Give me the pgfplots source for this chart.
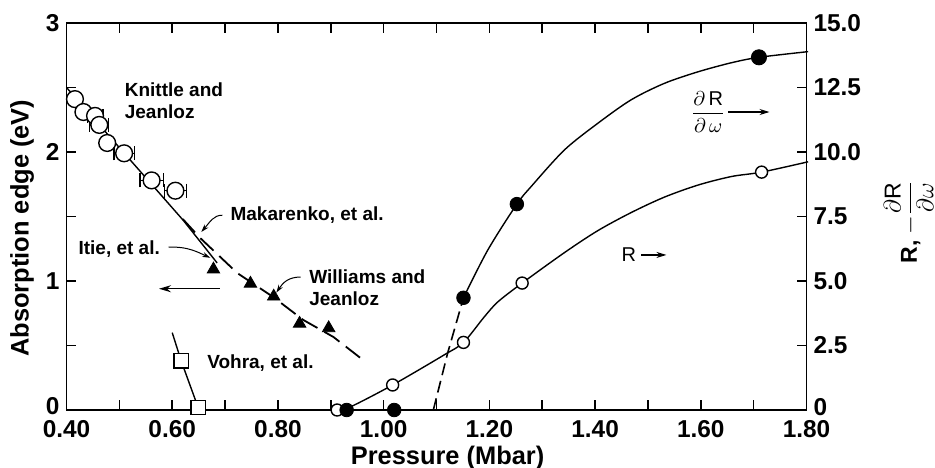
\documentclass[border=0pt]{standalone}
\usepackage{fontspec}
\setmainfont{Liberation Sans}
\usepackage{pgfplots}
\usepackage{pgfplotstable}
\pgfplotsset{compat=1.18}
\usetikzlibrary{arrows.meta}

\pgfplotstableread{
P E dP
0.416 2.41 0.010
0.432 2.31 0
0.454 2.28 0.015
0.462 2.21 0.018
0.477 2.07 0
0.509 1.99 0.019
0.561 1.78 0.022
0.606 1.70 0.021
}\knittle

\pgfplotstableread{
P E
0.678 1.09
0.748 0.98
0.792 0.88
0.841 0.67
0.896 0.635
}\williams

\pgfplotstableread{
P R
0.912 0
0.937 0.12
1.017 0.97
1.114 2.13
1.151 2.62
1.190 3.60
1.216 4.19
1.262 4.92
1.342 6.10
1.405 6.95
1.468 7.65
1.531 8.25
1.595 8.72
1.658 9.05
1.715 9.22
1.803 9.62
}\Rcurve

\pgfplotstableread{
P R
1.151 4.35
1.197 6.20
1.252 7.98
1.279 8.66
1.342 10.08
1.405 11.11
1.468 12.02
1.531 12.66
1.595 13.11
1.658 13.46
1.710 13.67
1.803 13.89
}\dRcurve

\newcommand{\annot}{\fontsize{9.5}{11}\selectfont\bfseries}
\begin{document}
\begin{tikzpicture}
\path[use as bounding box] (-33.25pt,-28.5pt) rectangle (434.25pt,205pt);
\pgfplotsset{
 every axis/.append style={
  scale only axis, width=370pt, height=193.5pt,
  xmin=0.4, xmax=1.8, clip=false,
  axis line style={line width=0.9pt},
  tick style={black, line width=0.8pt},
  major tick length=5pt, minor tick length=5pt,
  tick align=inside,
  tick label style={font=\fontsize{12.2}{14}\selectfont\bfseries},
 }
}
\begin{axis}[
 ymin=0, ymax=3,
 xtick={0.4,0.6,0.8,1.0,1.2,1.4,1.6,1.8},
 xticklabels={0.40,0.60,0.80,1.00,1.20,1.40,1.60,1.80},
 minor xtick={0.5,0.7,0.9,1.1,1.3,1.5,1.7},
 ytick={0,1,2,3}, yticklabels={\raisebox{4pt}{0},1,2,3},
 minor ytick={0.5,1.5,2.5},
 xtick pos=both, ytick pos=left,
 xticklabel style={yshift=-1.5pt},
]
% Knittle and Jeanloz fit line
\addplot[black, line width=0.7pt] coordinates {(0.40,2.50)(0.621,1.47)(0.685,1.14)};
% Makarenko dashed
\addplot[black, line width=0.9pt, dash pattern=on 9pt off 4pt] coordinates {(0.62,1.48)(0.653,1.333)(0.723,1.062)(0.791,0.876)(0.848,0.698)(0.905,0.566)(0.966,0.372)};
% Knittle data
\addplot[only marks, mark=*, mark size=4.2pt, mark options={fill=white, draw=black, line width=0.7pt},
  error bars/.cd, x dir=both, x explicit,
  error bar style={line width=0.6pt, black},
  error mark options={black, line width=0.6pt, mark size=3.5pt, rotate=90}]
  table[x=P, y=E, x error=dP]{\knittle};
% Williams and Jeanloz
\addplot[only marks, mark=triangle*, mark size=3.6pt, black] table[x=P,y=E]{\williams};
% Vohra
\addplot[black, line width=0.7pt] coordinates {(0.600,0.60)(0.617,0.38)(0.649,0.02)};
\addplot[only marks, mark=square*, mark size=3.6pt, mark options={fill=white, draw=black, line width=0.7pt}] coordinates {(0.617,0.38)(0.649,0.02)};

% annotations
\node[anchor=west, align=left, font=\annot] at (axis cs:0.497,2.40) {Knittle and\\Jeanloz};
\node[anchor=west, font=\annot] at (axis cs:0.697,1.51) {Makarenko, et al.};
\draw[line width=0.5pt, -{Stealth[length=4pt,width=2.5pt]}] (axis cs:0.695,1.51) .. controls (axis cs:0.678,1.51) and (axis cs:0.672,1.46) .. (axis cs:0.655,1.38);
\node[anchor=east, font=\annot] at (axis cs:0.590,1.25) {Itie, et al.};
\draw[line width=0.5pt, -{Stealth[length=4pt,width=2.5pt]}] (axis cs:0.593,1.262) .. controls (axis cs:0.63,1.27) and (axis cs:0.65,1.22) .. (axis cs:0.672,1.18);
\node[anchor=west, align=left, font=\annot] at (axis cs:0.846,0.946) {Williams and\\Jeanloz};
\draw[line width=0.5pt, -{Stealth[length=4pt,width=2.5pt]}] (axis cs:0.843,1.031) .. controls (axis cs:0.82,1.03) and (axis cs:0.81,0.99) .. (axis cs:0.797,0.91);
\node[anchor=west, font=\annot] at (axis cs:0.653,0.364) {Vohra, et al.};
\draw[line width=0.7pt, -{Stealth[length=6pt,width=3.5pt]}] (axis cs:0.69,0.94) -- (axis cs:0.575,0.94);

\node[rotate=90, font=\fontsize{12.7}{14}\selectfont\bfseries] at (rel axis cs:-0.060,0.470) {Absorption edge (eV)};
\node[font=\fontsize{12.7}{14}\selectfont\bfseries] at (rel axis cs:0.515,-0.123) {Pressure (Mbar)};
\end{axis}

\begin{axis}[
 ymin=0, ymax=15,
 axis x line=none, axis y line*=right,
 ytick={0,2.5,5,7.5,10,12.5,15},
 yticklabels={\raisebox{3pt}{0},2.5,5.0,7.5,10.0,12.5,15.0},
 ytick pos=right,
]
% R curve
\addplot[black, line width=0.7pt, smooth] table[x=P,y=R]{\Rcurve};
% dR/domega
\addplot[black, line width=1.2pt] coordinates {(0.905,0)(1.068,0)};
\addplot[black, line width=1.0pt] coordinates {(1.076,0)(1.094,0)};
\addplot[black, line width=0.8pt, dash pattern=on 6pt off 3pt] coordinates {(1.094,0)(1.121,2.2)(1.151,4.35)};
\addplot[black, line width=0.7pt, smooth] table[x=P,y=R]{\dRcurve};
% markers
\addplot[only marks, mark=*, mark size=3pt, mark options={fill=white, draw=black, line width=0.7pt}] coordinates {(0.912,0)(1.017,0.97)(1.151,2.62)(1.262,4.92)(1.715,9.22)};
\addplot[only marks, mark=*, mark size=3.4pt, black] coordinates {(0.93,0)(1.02,0)(1.151,4.35)(1.252,7.98)};
\addplot[only marks, mark=*, mark size=3.8pt, black] coordinates {(1.710,13.67)};

\node[font=\fontsize{10}{12}\selectfont] at (axis cs:1.614,11.55) {$\displaystyle\frac{\partial\,\textnormal{R}}{\partial\,\omega}$};
\draw[line width=0.6pt, -{Stealth[length=5pt,width=3pt]}] (axis cs:1.652,11.55) -- (axis cs:1.730,11.55);
\node[font=\fontsize{10}{12}\selectfont] at (axis cs:1.464,6.01) {R};
\draw[line width=0.6pt, -{Stealth[length=5pt,width=3pt]}] (axis cs:1.487,6.01) -- (axis cs:1.535,6.01);

\node[rotate=90, font=\fontsize{11.5}{13}\selectfont\bfseries, inner sep=0pt] at (rel axis cs:1.138,0.486) {R, $-\displaystyle\frac{\partial\textnormal{R}}{\partial\omega}$};
\end{axis}
\end{tikzpicture}
\end{document}
